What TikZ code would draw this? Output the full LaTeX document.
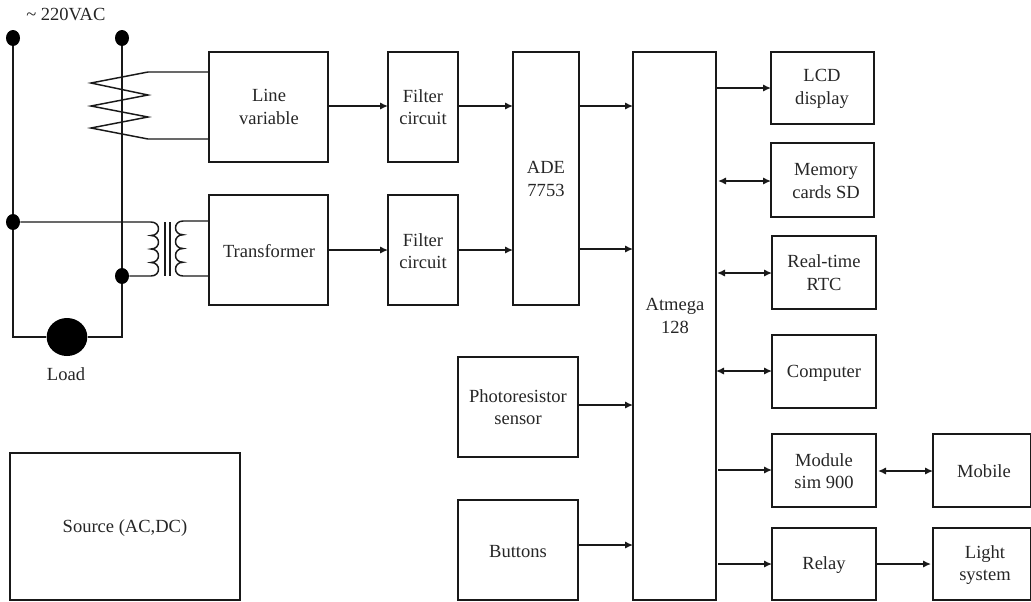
\documentclass[tikz,border=0pt]{standalone}
\usepackage{fontspec}
\setmainfont{Liberation Serif}
\usetikzlibrary{arrows.meta,shapes.geometric}
\tikzset{
  x=0.75pt,y=-0.75pt,
  lw/.style={line width=1.1pt,black!90},
  txt/.style={font=\fontsize{13.9}{17}\selectfont,inner sep=0pt,text=black!85},
  sig/.style={lw,-{Latex[length=6pt,width=5.5pt]}},
  bisig/.style={lw,{Latex[length=6pt,width=5.5pt]}-{Latex[length=6pt,width=5.5pt]}},
  dotn/.style={ellipse,fill=black,draw=none,inner sep=0pt,minimum width=10.5pt,minimum height=12pt},
  wire/.style={lw}
}
\newcommand{\blk}[8]{% name, x0,y0,x1,y1,textx,texty,text
  \draw[lw] (#2,#3) rectangle (#4,#5);
  \node[txt,align=center] (#1) at (#6,#7) {#8};
}
\begin{document}
\begin{tikzpicture}
\useasboundingbox (0,0) rectangle (1031,601);
% blocks
\blk{line}{209}{52}{328}{162}{269}{107}{Line\\variable}
\blk{trans}{209}{195}{328}{305}{269}{251}{Transformer}
\blk{fa}{388}{52}{458}{162}{423}{107}{Filter\\circuit}
\blk{fb}{388}{195}{458}{305}{423}{251}{Filter\\circuit}
\blk{ade}{513}{52}{579}{305}{546}{179}{ADE\\7753}
\blk{atm}{633}{52}{716}{600}{675}{316}{Atmega\\128}
\blk{lcd}{771}{52}{874}{124}{822}{89}{LCD\\display}
\blk{mem}{771}{143}{874}{217}{826}{181}{Memory\\cards SD}
\blk{rtc}{772}{236}{876}{309}{824}{272.5}{Real-time\\RTC}
\blk{comp}{772}{335}{876}{408}{824}{373}{Computer}
\blk{sim}{772}{434}{876}{507}{824}{471}{Module\\sim 900}
\blk{rel}{772}{528}{876}{600}{824}{565}{Relay}
\blk{mob}{933}{434}{1031}{507}{984}{471}{Mobile}
\blk{lig}{933}{528}{1031}{600}{985}{565}{Light\\system}
\blk{pho}{458}{357}{578}{457}{518}{407}{Photoresistor\\sensor}
\blk{but}{458}{500}{578}{600}{518}{552}{Buttons}
\blk{src}{10}{453}{240}{600}{125}{528}{Source (AC,DC)}
% signal arrows
\coordinate (a1) at (328,106); \coordinate (a2) at (388,106);
\draw[sig] (a1) -- (a2);
\coordinate (a3) at (328,250); \coordinate (a4) at (388,250);
\draw[sig] (a3) -- (a4);
\coordinate (a5) at (458,106); \coordinate (a6) at (513,106);
\draw[sig] (a5) -- (a6);
\coordinate (a7) at (458,250); \coordinate (a8) at (513,250);
\draw[sig] (a7) -- (a8);
\coordinate (b1) at (579,106); \coordinate (b2) at (633,106);
\draw[sig] (b1) -- (b2);
\coordinate (b3) at (579,249); \coordinate (b4) at (633,249);
\draw[sig] (b3) -- (b4);
\coordinate (b5) at (578,405); \coordinate (b6) at (633,405);
\draw[sig] (b5) -- (b6);
\coordinate (b7) at (578,545); \coordinate (b8) at (633,545);
\draw[sig] (b7) -- (b8);
\coordinate (c1) at (717,88); \coordinate (c2) at (771,88);
\draw[sig] (c1) -- (c2);
\coordinate (c3) at (718,181); \coordinate (c4) at (771,181);
\draw[bisig] (c3) -- (c4);
\coordinate (c5) at (717,273); \coordinate (c6) at (772,273);
\draw[bisig] (c5) -- (c6);
\coordinate (c7) at (716,371); \coordinate (c8) at (772,371);
\draw[bisig] (c7) -- (c8);
\coordinate (c9) at (718,470); \coordinate (c10) at (772,470);
\draw[sig] (c9) -- (c10);
\coordinate (c11) at (718,564); \coordinate (c12) at (772,564);
\draw[sig] (c11) -- (c12);
\coordinate (d1) at (878,471); \coordinate (d2) at (933,471);
\draw[bisig] (d1) -- (d2);
\coordinate (d3) at (876,564); \coordinate (d4) at (931,564);
\draw[sig] (d3) -- (d4);
% mains circuit
\node[dotn] (t1) at (13,38) {};
\node[dotn] (t2) at (122,38) {};
\node[dotn] (j1) at (13,222) {};
\node[dotn] (j2) at (122,276) {};
\node[dotn,minimum width=30.5pt,minimum height=28.5pt] (load) at (67,337) {};
\node[txt] (loadl) at (66,374) {Load};
\node[txt,anchor=west] (vac) at (26,14) {\textasciitilde\ 220VAC};
\draw[wire] (t1) -- (j1);
\draw[wire] (j1) |- (load);
\draw[wire] (t2) -- (j2);
\draw[wire] (j2) |- (load);
% current transformer zigzag
\draw[wire] (209,72) -- (148,72) -- (91,83) -- (148,95) -- (91,106) -- (148,117) -- (91,128) -- (148,139) -- (209,139);
% voltage transformer primary
\draw[wire] (j1) -- (151,222)
  .. controls (161,222) and (161,235.5) .. (151,235.5)
  .. controls (161,235.5) and (161,249) .. (151,249)
  .. controls (161,249) and (161,262.5) .. (151,262.5)
  .. controls (161,262.5) and (161,276) .. (151,276) -- (j2);
\draw[wire] (165,222) -- (165,276) (170,222) -- (170,276);
% secondary
\draw[wire] (209,221) -- (183,221)
  .. controls (173,221) and (173,234.75) .. (183,234.75)
  .. controls (173,234.75) and (173,248.5) .. (183,248.5)
  .. controls (173,248.5) and (173,262.25) .. (183,262.25)
  .. controls (173,262.25) and (173,276) .. (183,276) -- (209,276);
\end{tikzpicture}
\end{document}
